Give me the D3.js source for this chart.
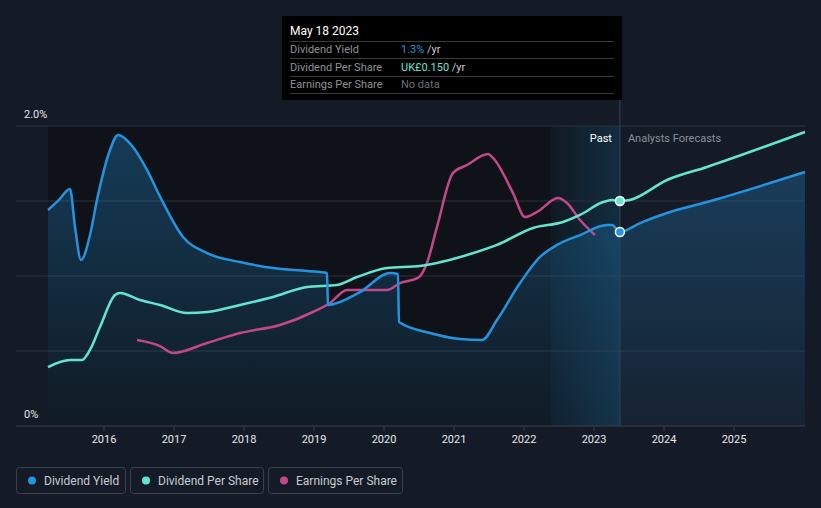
<!DOCTYPE html>
<html><head><meta charset="utf-8">
<script src="https://cdn.jsdelivr.net/npm/d3@7"></script>
<style>
html,body{margin:0;padding:0;background:#151b26;}
svg{display:block;font-family:Roboto,"Noto Sans",sans-serif;}
</style></head>
<body><svg id="c" width="821" height="508"></svg>
<script>
// ---- data (decimal years) ----
const yieldDates = [2015.207,2015.364,2015.521,2015.593,2015.679,2015.807,2015.907,2016.093,2016.207,2016.421,2016.621,2016.807,2017.136,2017.479,2017.95,2018.421,2018.907,2019.193,2019.207,2019.379,2019.664,2020.093,2020.207,2020.221,2020.664,2021.093,2021.407,2021.621,2021.95,2022.236,2022.479,2022.807,2023.193,2023.264,2023.377,2023.664,2024.05,2024.621,2026.021];
const yieldValues = [1.44,1.507,1.58,1.327,1.107,1.273,1.507,1.84,1.94,1.86,1.707,1.53,1.26,1.153,1.093,1.053,1.033,1.02,0.807,0.827,0.893,1.02,1.013,0.693,0.62,0.58,0.573,0.707,0.953,1.127,1.207,1.273,1.34,1.34,1.293,1.353,1.42,1.493,1.693];

const dpsDates = [2015.207,2015.521,2015.693,2015.807,2015.95,2016.164,2016.236,2016.521,2016.807,2017.193,2017.479,2017.95,2018.421,2018.907,2019.336,2019.621,2020.05,2020.521,2020.764,2021.193,2021.621,2022.136,2022.564,2022.807,2023.136,2023.264,2023.377,2023.521,2024.05,2024.621,2026.021];
const dpsValues = [0.0393,0.044,0.044,0.0507,0.066,0.0873,0.0887,0.084,0.0807,0.0753,0.076,0.0807,0.086,0.0927,0.094,0.0993,0.1053,0.1067,0.1087,0.114,0.1207,0.132,0.136,0.1407,0.1493,0.1507,0.15,0.1507,0.164,0.1727,0.196];

const epsDates = [2016.479,2016.807,2016.993,2017.479,2017.95,2018.521,2018.993,2019.236,2019.479,2020.05,2020.236,2020.493,2020.621,2020.764,2020.993,2021.193,2021.493,2021.564,2021.85,2022.021,2022.193,2022.493,2022.621,2022.807,2023.021];
const epsValues = [0.0573,0.0533,0.0487,0.0553,0.062,0.0673,0.076,0.082,0.0907,0.0907,0.0953,0.0987,0.1087,0.1327,0.1687,0.174,0.1813,0.1787,0.1553,0.1393,0.1427,0.152,0.1487,0.1373,0.1273];

const xTicks = [2016,2017,2018,2019,2020,2021,2022,2023,2024,2025];
const yTickLabels = ["0%","2.0%"];
const nowDate = 2023.377;
const bandStart = 2022.39;
const tipTitle = "May 18 2023";
const tipRows = [
  {label:"Dividend Yield", value:"1.3%", unit:" /yr", color:"#2394df"},
  {label:"Dividend Per Share", value:"UK£0.150", unit:" /yr", color:"#63e6cf"},
  {label:"Earnings Per Share", value:"No data", unit:"", color:"#6b6f75"}
];
const legendItems = [
  {name:"Dividend Yield", color:"#2394df"},
  {name:"Dividend Per Share", color:"#63e6cf"},
  {name:"Earnings Per Share", color:"#c4478a"}
];

// ---- scales ----
const svg = d3.select("#c");
const x = d3.scaleLinear().domain([2014.75, 2026.021]).range([16, 805]);
const yY = d3.scaleLinear().domain([0, 2]).range([426, 126]);
const yD = d3.scaleLinear().domain([0, 0.2]).range([426, 126]);

const defs = svg.append("defs");
const ag = defs.append("linearGradient").attr("id","areaG")
  .attr("gradientUnits","userSpaceOnUse").attr("x1",0).attr("y1",126).attr("x2",0).attr("y2",426);
ag.append("stop").attr("offset","0").attr("stop-color","#2394df").attr("stop-opacity",0.32);
ag.append("stop").attr("offset","1").attr("stop-color","#2394df").attr("stop-opacity",0.06);
const bg = defs.append("linearGradient").attr("id","bandG").attr("x1",0).attr("x2",1).attr("y1",0).attr("y2",0);
bg.append("stop").attr("offset","0").attr("stop-color","#2394df").attr("stop-opacity",0.05);
bg.append("stop").attr("offset","1").attr("stop-color","#2394df").attr("stop-opacity",0.2);

// past dark region
svg.append("rect").attr("x", x(yieldDates[0])).attr("y", yY(2)).attr("width", x(nowDate)-x(yieldDates[0])).attr("height", yY(0)-yY(2)).attr("fill","#0f1319");
// band
svg.append("rect").attr("x", x(bandStart)).attr("y", yY(2)).attr("width", x(nowDate)-x(bandStart)).attr("height", yY(0)-yY(2)).attr("fill","url(#bandG)");

// gridlines
const grid = [0.5,1,1.5,2];
svg.append("g").selectAll("line").data(grid).join("line")
  .attr("x1",16).attr("x2",805).attr("y1",d=>yY(d)).attr("y2",d=>yY(d))
  .attr("stroke","#2b323d").attr("stroke-width",1);

// area under yield
const yieldData = yieldDates.map((d,i)=>[d, yieldValues[i]]);
const dpsData = dpsDates.map((d,i)=>[d, dpsValues[i]]);
const epsData = epsDates.map((d,i)=>[d, epsValues[i]]);
const curve = d3.curveMonotoneX;
svg.append("path").datum(yieldData)
  .attr("d", d3.area().x(d=>x(d[0])).y0(yY(0)).y1(d=>yY(d[1])).curve(curve))
  .attr("fill","url(#areaG)");

// now line
svg.append("line").attr("x1",x(nowDate)).attr("x2",x(nowDate)).attr("y1",100).attr("y2",426)
  .attr("stroke","#34465a").attr("stroke-width",1);

// axis
const xAxis = svg.append("g").attr("transform","translate(0,426)")
  .call(d3.axisBottom(x).tickValues(xTicks).tickFormat(d3.format("d")).tickSize(5).tickPadding(4));
xAxis.select(".domain").attr("stroke","#3a414c").attr("d","M16,0H805");
xAxis.selectAll(".tick line").attr("stroke","#3a414c");
xAxis.selectAll("text").attr("fill","#e6e8eb").attr("font-size",11).attr("font-family","Roboto, sans-serif");

// y labels
svg.append("text").attr("x",24).attr("y",yY(2)-8).text(yTickLabels[1]).attr("fill","#e6e8eb").attr("font-size",11);
svg.append("text").attr("x",24).attr("y",yY(0)-8).text(yTickLabels[0]).attr("fill","#e6e8eb").attr("font-size",11);

// lines
const line = (ys)=>d3.line().x(d=>x(d[0])).y(d=>ys(d[1])).curve(curve);
svg.append("path").datum(epsData).attr("d", line(yD)).attr("fill","none").attr("stroke",legendItems[2].color).attr("stroke-width",2.5).attr("stroke-linejoin","round");
svg.append("path").datum(dpsData).attr("d", line(yD)).attr("fill","none").attr("stroke",legendItems[1].color).attr("stroke-width",2.5).attr("stroke-linejoin","round");
svg.append("path").datum(yieldData).attr("d", line(yY)).attr("fill","none").attr("stroke",legendItems[0].color).attr("stroke-width",2.5).attr("stroke-linejoin","round");

// dots
svg.append("circle").attr("cx",x(nowDate)).attr("cy",yD(0.15)).attr("r",4.5).attr("fill",legendItems[1].color).attr("stroke","#fff").attr("stroke-width",1.5);
svg.append("circle").attr("cx",x(nowDate)).attr("cy",yY(1.293)).attr("r",4.5).attr("fill",legendItems[0].color).attr("stroke","#fff").attr("stroke-width",1.5);

// Past / Forecast labels
svg.append("text").attr("x",x(nowDate)-8).attr("y",142).attr("text-anchor","end").text("Past").attr("fill","#ffffff").attr("font-size",11);
svg.append("text").attr("x",x(nowDate)+8).attr("y",142).text("Analysts Forecasts").attr("fill","#8a8f97").attr("font-size",11);

// tooltip
const tip = svg.append("g");
tip.append("rect").attr("x",282).attr("y",16).attr("width",340).attr("height",84).attr("fill","#000");
tip.append("text").attr("x",290).attr("y",35).text(tipTitle).attr("fill","#fff").attr("font-size",12);
[41,58,76,93].forEach(yy=>tip.append("line").attr("x1",290).attr("x2",614).attr("y1",yy+0.5).attr("y2",yy+0.5).attr("stroke","#3a3a3a"));
tipRows.forEach((r,i)=>{
  const ty = 53 + i*17.5;
  tip.append("text").attr("x",290).attr("y",ty).text(r.label).attr("fill","#8e9196").attr("font-size",11);
  const t = tip.append("text").attr("x",401).attr("y",ty).attr("font-size",11);
  t.append("tspan").text(r.value).attr("fill",r.color);
  if (r.unit) t.append("tspan").text(r.unit).attr("fill","#c9cbce");
});

// legend
const lx = [16,130,268], lw = [109,133,134];
legendItems.forEach((it,i)=>{
  const g = svg.append("g").attr("transform",`translate(${lx[i]},467)`);
  g.append("rect").attr("x",0.5).attr("y",0.5).attr("width",lw[i]).attr("height",26).attr("rx",3).attr("fill","none").attr("stroke","#3b414b");
  g.append("circle").attr("cx",16).attr("cy",13.5).attr("r",4).attr("fill",it.color);
  g.append("text").attr("x",28).attr("y",17.5).text(it.name).attr("fill","#c8cbd0").attr("font-size",12);
});
</script></body></html>
